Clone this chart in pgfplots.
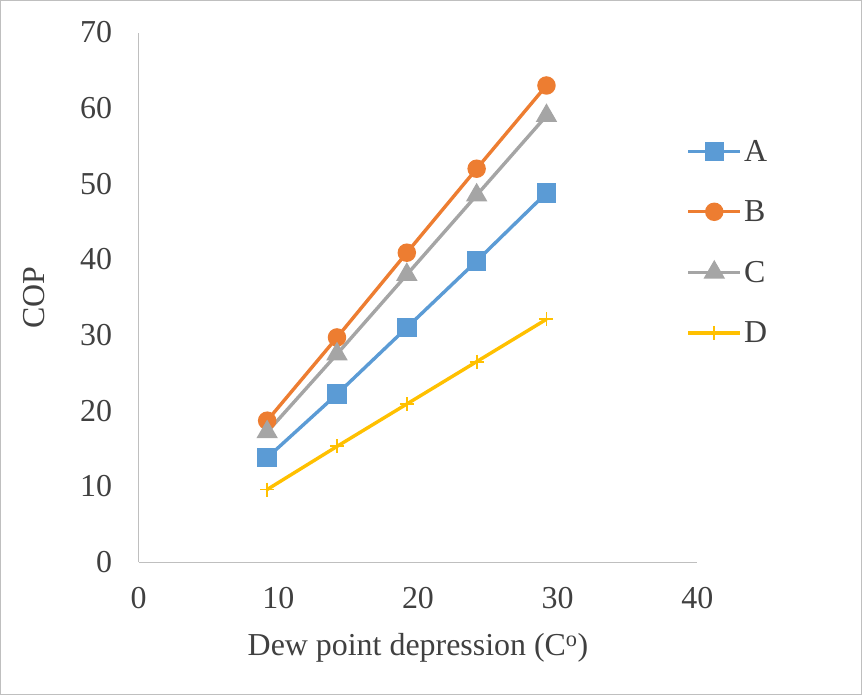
\documentclass[border=0pt]{standalone}
\usepackage{pgfplots}
\pgfplotsset{compat=1.18}
\usepackage{fontspec}
\setmainfont{Liberation Serif}
\definecolor{cA}{HTML}{5B9BD5}
\definecolor{cB}{HTML}{ED7D31}
\definecolor{cC}{HTML}{A5A5A5}
\definecolor{cD}{HTML}{FFC000}
\definecolor{txt}{HTML}{404040}
\definecolor{axc}{HTML}{BFBFBF}
\begin{document}
\begin{tikzpicture}[x=1bp,y=1bp]
\draw[color=axc, line width=1bp] (-138,-132) rectangle (722,561);
\begin{axis}[
  at={(0,0)}, anchor=south west,
  scale only axis, width=558bp, height=529bp,
  xmin=0, xmax=40, ymin=0, ymax=70,
  xtick={0,10,20,30,40}, ytick={0,10,...,70},
  axis x line*=bottom, axis y line*=left,
  axis line style={color=axc, line width=1.2bp, -},
  major tick length=0pt,
  font=\fontsize{32}{38}\selectfont,
  /pgf/number format/assume math mode=true,
  ticklabel style={color=txt, font=\fontsize{32}{38}\selectfont},
  xticklabel style={yshift=-22bp},
  yticklabel style={xshift=-23bp},
  xlabel={Dew point depression (C\textsuperscript{o})},
  ylabel={COP},
  label style={color=txt, font=\fontsize{32}{38}\selectfont},
  xlabel style={yshift=-17bp},
  ylabel style={yshift=28bp},
  legend style={at={(0.975,0.805)}, anchor=north west, draw=none, fill=none,
    font=\fontsize{32}{38}\selectfont, text=txt, row sep=34bp,
    /tikz/every even column/.append style={column sep=0bp}},
  legend cell align=left,
  legend image code/.code={
    \draw[mark repeat=2,mark phase=2,#1] plot coordinates {(0bp,0bp) (26bp,0bp) (52bp,0bp)};
  },
  every axis plot/.append style={line width=3.4bp},
]
\addplot[color=cA, mark=square*, mark size=8bp, mark options={solid}] coordinates {
(9.2,13.8) (14.2,22.2) (19.2,31.0) (24.2,39.8) (29.2,48.8)};
\addlegendentry{A}
\addplot[color=cB, mark=*, mark size=7.5bp] coordinates {
(9.2,18.7) (14.2,29.7) (19.2,40.9) (24.2,52.0) (29.2,63.0)};
\addlegendentry{B}
\addplot[color=cC, mark=triangle*, mark size=9bp] coordinates {
(9.2,17.2) (14.2,27.5) (19.2,38.0) (24.2,48.5) (29.2,59.0)};
\addlegendentry{C}
\addplot[color=cD, mark=+, mark size=7bp, mark options={line width=1.8bp}] coordinates {
(9.2,9.6) (14.2,15.3) (19.2,20.9) (24.2,26.5) (29.2,32.1)};
\addlegendentry{D}
\end{axis}
\end{tikzpicture}
\end{document}
